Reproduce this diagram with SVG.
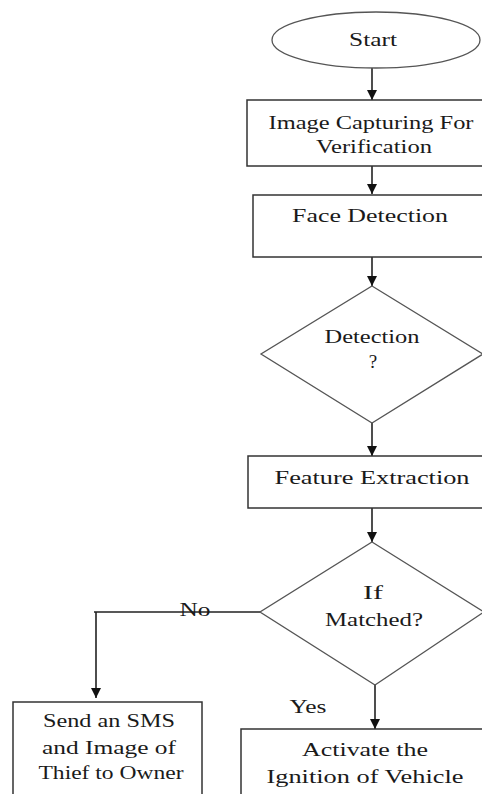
<svg xmlns="http://www.w3.org/2000/svg" width="482" height="794" viewBox="0 0 482 794">
<defs>
<marker id="arr" viewBox="0 0 10 10" refX="10" refY="5" markerWidth="10" markerHeight="10" markerUnits="userSpaceOnUse" orient="auto">
<path d="M0,0 L10,5 L0,10 Z" fill="#111"/>
</marker>
<style>
.box{fill:#fff;stroke:#333;stroke-width:1.5}
.dia{fill:#fff;stroke:#555;stroke-width:1.3}
.ln{fill:none;stroke:#222;stroke-width:1.6}
text{font-family:"Liberation Serif","Times New Roman",serif;font-size:19px;fill:#1a1a1a;text-anchor:middle}
</style>
</defs>
<rect width="482" height="794" fill="#fff"/>
<g id="connectors">
<line class="ln" x1="372" y1="68" x2="372" y2="100" marker-end="url(#arr)"/>
<line class="ln" x1="372" y1="166" x2="372" y2="194" marker-end="url(#arr)"/>
<line class="ln" x1="372" y1="257" x2="372" y2="286" marker-end="url(#arr)"/>
<line class="ln" x1="372" y1="423" x2="372" y2="456" marker-end="url(#arr)"/>
<line class="ln" x1="372" y1="508" x2="372" y2="542" marker-end="url(#arr)"/>
<polyline class="ln" points="260,612 94,612 96,612 96,698" marker-end="url(#arr)"/>
<line class="ln" x1="375" y1="685" x2="375" y2="729" marker-end="url(#arr)"/>
<text x="195" y="616" textLength="31" lengthAdjust="spacingAndGlyphs">No</text>
<text x="308" y="713" textLength="37" lengthAdjust="spacingAndGlyphs">Yes</text>
</g>
<g id="start">
<ellipse class="dia" cx="376" cy="40" rx="104" ry="28"/>
<text x="373" y="46" textLength="48" lengthAdjust="spacingAndGlyphs">Start</text>
</g>
<g id="capture">
<rect class="box" x="247" y="100" width="250" height="66"/>
<text x="371" y="129" textLength="205" lengthAdjust="spacingAndGlyphs">Image Capturing For</text>
<text x="374" y="153" textLength="116" lengthAdjust="spacingAndGlyphs">Verification</text>
</g>
<g id="face">
<rect class="box" x="253" y="195" width="244" height="62"/>
<text x="370" y="222" textLength="156" lengthAdjust="spacingAndGlyphs">Face Detection</text>
</g>
<g id="detect">
<polygon class="dia" points="372,286 483,354 372,423 261,354"/>
<text x="372" y="343" textLength="95" lengthAdjust="spacingAndGlyphs">Detection</text>
<text x="373" y="368">?</text>
</g>
<g id="feature">
<rect class="box" x="248" y="456" width="249" height="52"/>
<text x="372" y="484" textLength="195" lengthAdjust="spacingAndGlyphs">Feature Extraction</text>
</g>
<g id="match">
<polygon class="dia" points="372,542 484,612 375,685 260,612"/>
<text x="373" y="599" textLength="20" lengthAdjust="spacingAndGlyphs">If</text>
<text x="374" y="626" textLength="98" lengthAdjust="spacingAndGlyphs">Matched?</text>
</g>
<g id="sms">
<rect class="box" x="13" y="702" width="189" height="110"/>
<text x="109" y="727" textLength="132" lengthAdjust="spacingAndGlyphs">Send an SMS</text>
<text x="109" y="754" textLength="134" lengthAdjust="spacingAndGlyphs">and Image of</text>
<text x="111" y="779" textLength="145" lengthAdjust="spacingAndGlyphs">Thief to Owner</text>
</g>
<g id="ignition">
<rect class="box" x="241" y="729" width="260" height="90"/>
<text x="365" y="756" textLength="126" lengthAdjust="spacingAndGlyphs">Activate the</text>
<text x="365" y="783" textLength="197" lengthAdjust="spacingAndGlyphs">Ignition of Vehicle</text>
</g>
</svg>
